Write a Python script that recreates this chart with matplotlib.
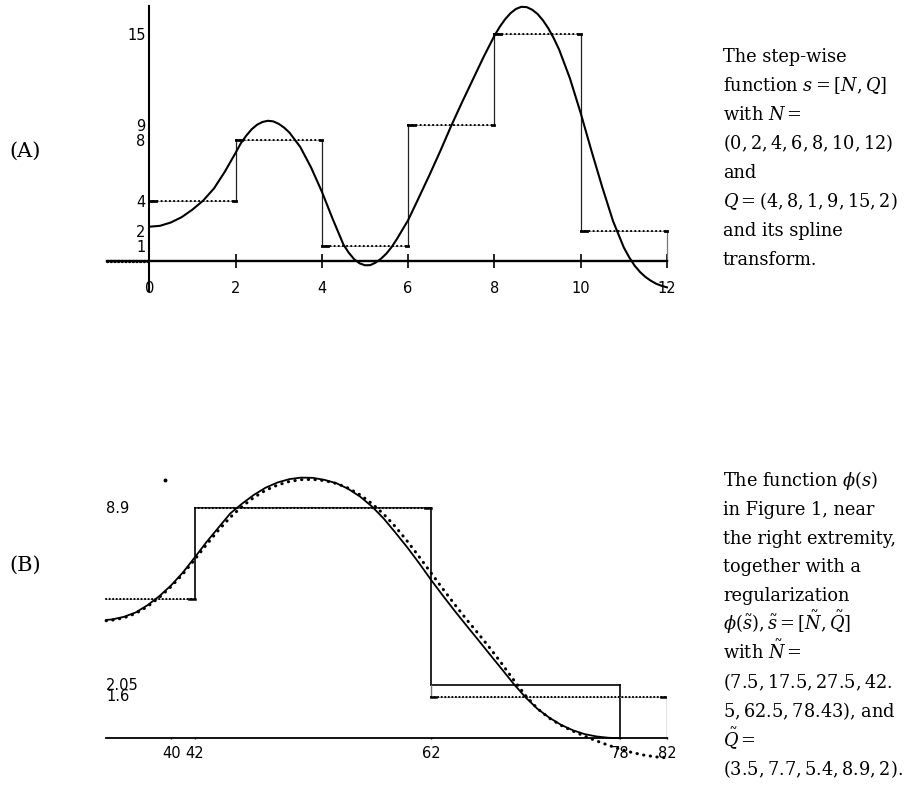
import matplotlib
matplotlib.use('Agg')
import matplotlib.pyplot as plt
import numpy as np

plt.rcParams['mathtext.fontset'] = 'dejavuserif'

# ---------------- data : panel (A) ----------------
N = [0, 2, 4, 6, 8, 10, 12]
Q = [4, 8, 1, 9, 15, 2]
xticks_a = [0, 2, 4, 6, 8, 10, 12]
yticks_a = [1, 2, 4, 8, 9, 15]

# spline transform
spline_x = [0, 0.25, 0.5, 0.75, 1, 1.25, 1.5, 1.75, 2, 2.125,
            2.25, 2.375, 2.5, 2.625, 2.75, 2.875, 3, 3.125, 3.25,
            3.5, 3.75, 4, 4.25,
            4.5, 4.625, 4.75, 4.875, 5, 5.125, 5.25, 5.375, 5.5, 5.625, 5.75,
            6, 6.25, 6.5, 6.75, 7, 7.25, 7.5, 7.75,
            8, 8.125, 8.25, 8.375, 8.5, 8.625, 8.75, 8.875, 9, 9.125, 9.25, 9.375, 9.5,
            9.75, 10, 10.25, 10.5, 10.75,
            11, 11.125, 11.25, 11.375, 11.5, 11.625, 11.75, 11.875, 12]
spline_y = [2.27, 2.33, 2.55, 2.9, 3.4, 4.0, 4.8, 5.9, 7.15, 7.8,
            8.3, 8.72, 9.02, 9.2, 9.28, 9.24, 9.08, 8.83, 8.5,
            7.55, 6.2, 4.6, 2.8,
            1.1, 0.55, 0.12, -0.15, -0.28, -0.27, -0.1, 0.16, 0.5, 0.95, 1.5,
            2.7, 4.2, 5.72, 7.3, 8.95, 10.5, 12.0, 13.5,
            14.9, 15.5, 16.0, 16.4, 16.68, 16.82, 16.8, 16.63, 16.35, 15.93, 15.4, 14.75, 14.0,
            12.1, 9.8, 7.3, 4.9, 2.65,
            0.9, 0.25, -0.3, -0.72, -1.05, -1.3, -1.5, -1.64, -1.74]

# ---------------- data : panel (B) ----------------
sol_N = [34.5, 42, 62, 78]
sol_Q = [5.4, 8.9, 2.05]
reg_N = [34.5, 42, 62, 82]
reg_Q = [5.4, 8.9, 1.6]
xticks_b = [40, 42, 62, 78, 82]
ylabels_b = [8.9, 2.05, 1.6]
stray_pt = (39.5, 10.0)

phi_x = [34.5, 35, 36, 37, 38, 39, 40, 41, 42, 43, 44, 45, 46, 47, 48, 49, 50,
         51, 52, 53, 54, 55, 56, 57, 58, 59, 60, 61, 62, 63, 64, 65, 66, 67,
         68, 69, 70, 71, 72, 73, 74, 75, 76, 77, 78]
phi_y = [4.58, 4.6, 4.7, 4.87, 5.15, 5.5, 5.92, 6.42, 7.0, 7.6, 8.15, 8.7, 9.08,
         9.42, 9.7, 9.9, 10.03, 10.09, 10.08, 10.0, 9.87, 9.65, 9.35, 8.97, 8.5,
         7.95, 7.38, 6.77, 6.13, 5.52, 4.93, 4.36, 3.8, 3.23, 2.67, 2.1, 1.58,
         1.14, 0.8, 0.52, 0.31, 0.16, 0.07, 0.02, 0.0]

reg_x = [34.5, 35, 36, 37, 38, 39, 40, 41, 42, 43, 44, 45, 46, 47, 48, 49, 50,
         51, 52, 53, 54, 55, 56, 57, 58, 59, 60, 61, 62, 63, 64, 65, 66, 67,
         68, 69, 70, 71, 72, 73, 74, 75, 76, 77, 78, 79, 80, 81, 82]
reg_y = [4.55, 4.57, 4.66, 4.83, 5.1, 5.45, 5.87, 6.36, 6.92, 7.5, 8.05, 8.55, 8.97,
         9.32, 9.6, 9.8, 9.94, 10.01, 10.02, 9.97, 9.86, 9.68, 9.42, 9.08, 8.67,
         8.18, 7.62, 7.02, 6.4, 5.78, 5.18, 4.6, 4.05, 3.48, 2.88, 2.25, 1.65,
         1.15, 0.78, 0.5, 0.28, 0.08, -0.1, -0.27, -0.42, -0.55, -0.65, -0.72, -0.76]

caption_a = ['The step-wise',
             r'function $s=[N,Q]$',
             r'with $N=$',
             r'$(0,2,4,6,8,10,12)$',
             'and',
             r'$Q=(4,8,1,9,15,2)$',
             'and its spline',
             'transform.']
caption_b = [r'The function $\phi(s)$',
             'in Figure 1, near',
             'the right extremity,',
             'together with a',
             'regularization',
             r'$\phi(\tilde{s}),\tilde{s}=[\tilde{N},\tilde{Q}]$',
             r'with $\tilde{N}=$',
             r'$(7.5,17.5,27.5,42.$',
             r'$5,62.5,78.43)$, and',
             r'$\tilde{Q}=$',
             r'$(3.5,7.7,5.4,8.9,2)$.']


def dots(ax, x, y, lw=1.5, gap=1.9):
    ax.plot(x, y, color='black', lw=lw, linestyle=(0, (0.1, gap)),
            dash_capstyle='round', clip_on=False, zorder=3)


fig = plt.figure(figsize=(9.08, 7.86), dpi=100)

# ---------------- panel (A) ----------------
ax1 = fig.add_axes([0.1178, 0.6304, 0.6167, 0.3615])
ax1.set_xlim(-0.98, 12)
ax1.set_ylim(-1.95, 16.85)
for s in ['top', 'right']:
    ax1.spines[s].set_visible(False)
ax1.spines['left'].set_position(('data', 0))
ax1.spines['bottom'].set_position(('data', 0))
ax1.spines['left'].set_linewidth(1.5)
ax1.spines['bottom'].set_linewidth(1.7)
ax1.set_xticks(xticks_a)
ax1.set_xticklabels([str(v) for v in xticks_a])
ax1.set_yticks(yticks_a)
ax1.set_yticklabels([str(v) for v in yticks_a])
ax1.tick_params(axis='x', direction='inout', length=10, width=1.2, pad=9.2,
                labelsize=10.5)
ax1.tick_params(axis='y', length=0, pad=2.6, labelsize=10.5)

# step function: verticals thin, horizontals dotted
for i in range(1, len(Q)):
    ax1.plot([N[i], N[i]], [Q[i - 1], Q[i]], color='#222222', lw=0.9)
ax1.plot([N[-1], N[-1]], [0, Q[-1]], color='#777777', lw=0.9, clip_on=False)
for i in range(len(Q)):
    ax1.plot([N[i], N[i + 1]], [Q[i], Q[i]], color='#888888', lw=0.5)
    dots(ax1, [N[i], N[i + 1]], [Q[i], Q[i]])
    ax1.plot([N[i], N[i] + 0.15], [Q[i], Q[i]], color='black', lw=2.0)
    ax1.plot([N[i + 1] - 0.05, N[i + 1]], [Q[i], Q[i]], color='black', lw=2.0,
             clip_on=False)
dots(ax1, [-0.98, N[0]], [0, 0], lw=2.4, gap=1.0)

ax1.plot(spline_x, spline_y, color='black', lw=1.5, clip_on=False, zorder=4)

# ---------------- panel (B) ----------------
ax2 = fig.add_axes([0.1169, 0.02786, 0.6181, 0.378])
ax2.set_xlim(34.5, 82)
ax2.set_ylim(-1.0, 10.5)
for s in ['top', 'right', 'left']:
    ax2.spines[s].set_visible(False)
ax2.spines['bottom'].set_position(('data', 0))
ax2.spines['bottom'].set_linewidth(1.3)
ax2.set_yticks([])
ax2.set_xticks(xticks_b)
ax2.set_xticklabels([str(v) for v in xticks_b])
ax2.tick_params(axis='x', direction='inout', length=2, width=1.0, pad=4.7,
                labelsize=10.5)
for v in ylabels_b:
    ax2.text(34.5, v, str(v), ha='left', va='center', fontsize=10.5)

# first step function (solid)
for i in range(1, len(sol_Q)):
    ax2.plot([sol_N[i], sol_N[i + 1]], [sol_Q[i], sol_Q[i]], color='black', lw=1.2)
for i in range(1, len(sol_Q)):
    ax2.plot([sol_N[i], sol_N[i]], [sol_Q[i - 1], sol_Q[i]], color='black', lw=1.2)
ax2.plot([sol_N[-1], sol_N[-1]], [sol_Q[-1], 0], color='black', lw=1.2)

# regularized step function (dotted)
ax2.plot([reg_N[2], reg_N[2]], [sol_Q[-1], reg_Q[2]], color='#777777', lw=1.0)
ax2.plot([reg_N[-1], reg_N[-1]], [reg_Q[-1], 0], color='#777777', lw=1.0)
for i in range(len(reg_Q)):
    ax2.plot([reg_N[i], reg_N[i + 1]], [reg_Q[i], reg_Q[i]], color='#999999', lw=0.5)
    dots(ax2, [reg_N[i], reg_N[i + 1]], [reg_Q[i], reg_Q[i]], lw=1.5, gap=1.6)
    ax2.plot([reg_N[i + 1] - 0.5, reg_N[i + 1]], [reg_Q[i], reg_Q[i]],
             color='black', lw=1.8)
ax2.plot([reg_N[2], reg_N[2] + 0.4], [reg_Q[2], reg_Q[2]], color='black', lw=1.8)

# phi(s) and phi(s~)
ax2.plot(phi_x, phi_y, color='black', lw=1.3, clip_on=False, zorder=4)
dots(ax2, reg_x, reg_y, lw=2.2, gap=2.1)
ax2.plot([stray_pt[0]], [stray_pt[1]], 'o', color='black', ms=1.8)

# ---------------- labels and captions ----------------
fig.text(25.5 / 908, 1 - 151.7 / 786, '(A)', family='DejaVu Serif', fontsize=15,
         ha='center', va='center')
fig.text(25.5 / 908, 1 - 565 / 786, '(B)', family='DejaVu Serif', fontsize=15,
         ha='center', va='center')
for i, line in enumerate(caption_a):
    fig.text(723 / 908, 1 - (62.3 + 28.9 * i) / 786, line, family='DejaVu Serif',
             fontsize=12.8, ha='left', va='baseline')
for i, line in enumerate(caption_b):
    fig.text(723 / 908, 1 - (485.7 + 28.9 * i) / 786, line, family='DejaVu Serif',
             fontsize=12.8, ha='left', va='baseline')

fig.savefig('out.png', dpi=100)
